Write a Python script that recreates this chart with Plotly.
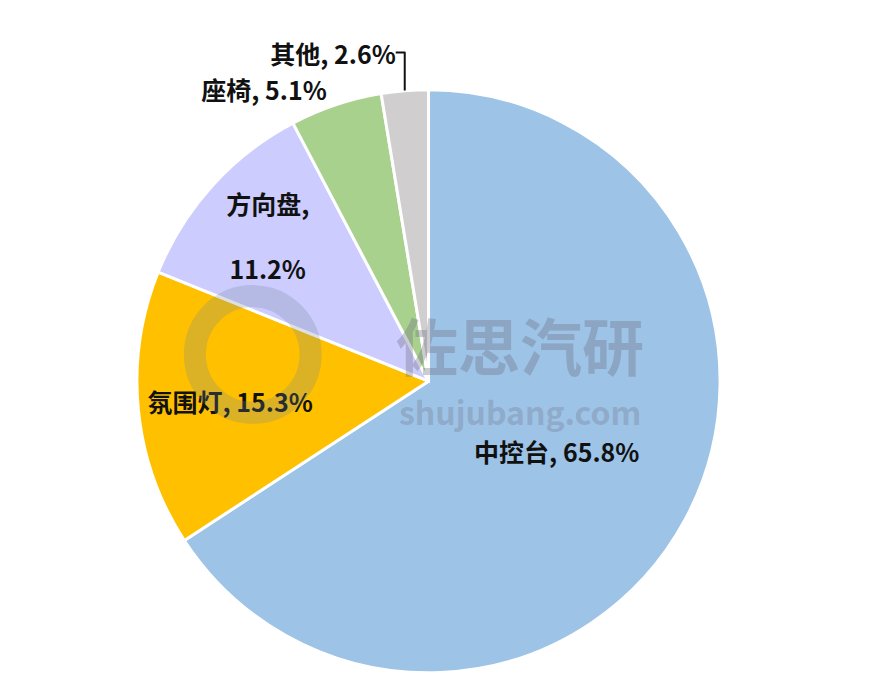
import plotly.graph_objects as go

categories = ["中控台", "氛围灯", "方向盘", "座椅", "其他"]
shares = [65.8, 15.3, 11.2, 5.1, 2.6]
label_texts = ["中控台, 65.8%", "氛围灯, 15.3%",
               "方向盘,<br><span style='font-size:11px'> </span><br>11.2%",
               "座椅, 5.1%", "其他, 2.6%"]
colors = ["#9DC3E6", "#FFC000", "#CCCCFF", "#A9D18E", "#D0CECE"]
positions = ["inside", "inside", "inside", "outside", "outside"]

font_family = "Noto Sans CJK SC, Noto Sans, sans-serif"

fig = go.Figure(go.Pie(
    labels=categories,
    values=shares,
    text=label_texts,
    texttemplate="<b>%{text}</b>",
    textposition=positions,
    insidetextorientation="horizontal",
    textfont=dict(family=font_family, size=25, color="#111111"),
    marker=dict(colors=colors, line=dict(color="white", width=3)),
    sort=False,
    direction="clockwise",
    rotation=0,
    showlegend=False,
    hoverinfo="label+percent",
    domain=dict(x=[0.10, 0.845], y=[0.031, 0.881]),
))

fig.add_annotation(text="<b>佐思汽研</b>", x=0.575, y=0.51, xref="paper", yref="paper",
                   showarrow=False, font=dict(family=font_family, size=62, color="rgba(110,110,130,0.35)"))
fig.add_annotation(text="<b>shujubang.com</b>", x=0.575, y=0.412, xref="paper", yref="paper",
                   showarrow=False, font=dict(family=font_family, size=32, color="rgba(110,110,130,0.3)"))
fig.add_shape(type="circle", xref="paper", yref="paper", x0=0.21, x1=0.34, y0=0.41, y1=0.58,
              line=dict(color="rgba(110,130,150,0.25)", width=22))

fig.update_layout(
    width=890, height=686,
    margin=dict(l=0, r=0, t=0, b=0),
    paper_bgcolor="white",
    plot_bgcolor="white",
)

fig.write_html("out.html")
